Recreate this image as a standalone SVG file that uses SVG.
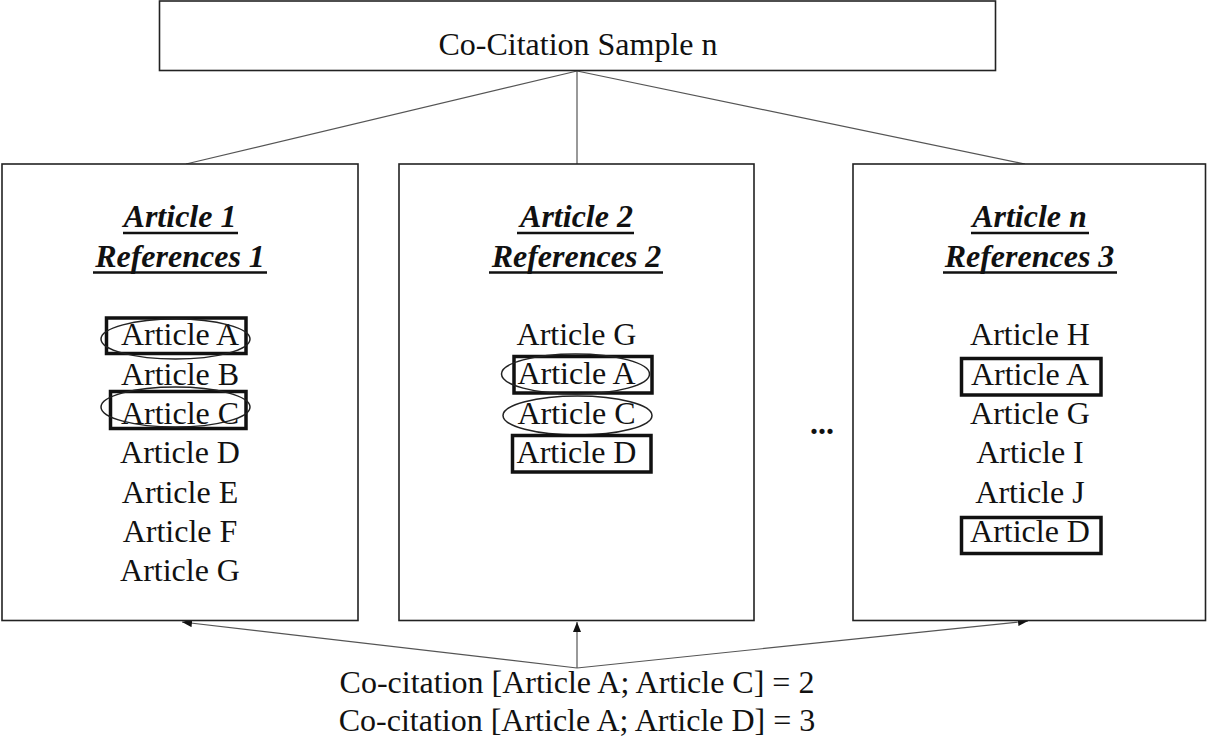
<svg xmlns="http://www.w3.org/2000/svg" width="1208" height="742" viewBox="0 0 1208 742">
<style>
.box{fill:#fff;stroke:#222;stroke-width:1.6}
.t{font-family:"Liberation Serif","Times New Roman",serif;font-size:32px;fill:#111;text-anchor:middle}
.h{font-family:"Liberation Serif","Times New Roman",serif;font-size:32px;font-weight:bold;font-style:italic;fill:#111;text-anchor:middle}
.ul{stroke:#111;stroke-width:2.6}
.mark{fill:none;stroke:#111;stroke-width:3.5}
.ell{fill:none;stroke:#222;stroke-width:1.5}
.conn{stroke:#555;stroke-width:1.2;fill:none}
</style>
<defs>
<marker id="arr" viewBox="0 0 10 8" refX="10" refY="4" markerWidth="10" markerHeight="8" markerUnits="userSpaceOnUse" orient="auto">
<path d="M0,0 L10,4 L0,8 Z" fill="#111"/>
</marker>
</defs>
<g id="connectors">
<line class="conn" x1="577" y1="71" x2="186" y2="164"/>
<line class="conn" x1="577" y1="71" x2="577" y2="164"/>
<line class="conn" x1="577" y1="71" x2="1025" y2="164"/>
<line class="conn" x1="577" y1="668" x2="182" y2="622" marker-end="url(#arr)"/>
<line class="conn" x1="577" y1="668" x2="577" y2="622" marker-end="url(#arr)"/>
<line class="conn" x1="577" y1="668" x2="1028" y2="621" marker-end="url(#arr)"/>
</g>
<g id="sample">
<rect class="box" x="159.5" y="1" width="836" height="69.5"/>
<text class="t" x="578" y="55">Co-Citation Sample n</text>
</g>
<g id="article1">
<rect class="box" x="2" y="164" width="356" height="456.5"/>
<text class="h" x="180" y="227">Article 1</text>
<line class="ul" x1="123" y1="233" x2="238" y2="233"/>
<text class="h" x="180" y="267">References 1</text>
<line class="ul" x1="93" y1="272.5" x2="267" y2="272.5"/>
<text class="t" x="180" y="345">Article A</text>
<text class="t" x="180" y="384.5">Article B</text>
<text class="t" x="180" y="424">Article C</text>
<text class="t" x="180" y="463">Article D</text>
<text class="t" x="180" y="502.5">Article E</text>
<text class="t" x="180" y="542">Article F</text>
<text class="t" x="180" y="581">Article G</text>
<rect class="mark" x="106.5" y="318" width="139.5" height="35.5"/>
<ellipse class="ell" cx="175.5" cy="339" rx="74.5" ry="20"/>
<rect class="mark" x="110.5" y="391.5" width="135.5" height="37"/>
<ellipse class="ell" cx="175.5" cy="407" rx="74.5" ry="20"/>
</g>
<g id="article2">
<rect class="box" x="399" y="164" width="355" height="456.5"/>
<text class="h" x="576.5" y="227">Article 2</text>
<line class="ul" x1="517" y1="233" x2="634" y2="233"/>
<text class="h" x="576.5" y="267">References 2</text>
<line class="ul" x1="489" y1="272.5" x2="663" y2="272.5"/>
<text class="t" x="576.5" y="345">Article G</text>
<text class="t" x="576.5" y="384">Article A</text>
<text class="t" x="576.5" y="424">Article C</text>
<text class="t" x="576.5" y="463">Article D</text>
<rect class="mark" x="514" y="356.5" width="138" height="36.5"/>
<ellipse class="ell" cx="575.5" cy="374" rx="74" ry="20"/>
<ellipse class="ell" cx="577.5" cy="415.5" rx="74.5" ry="19.5"/>
<rect class="mark" x="512.5" y="435.5" width="138.5" height="36.5"/>
</g>
<g id="ellipsis">
<text class="t" x="822" y="434" font-weight="bold">...</text>
</g>
<g id="articleN">
<rect class="box" x="853" y="164" width="352.5" height="456.5"/>
<text class="h" x="1029.5" y="227">Article n</text>
<line class="ul" x1="971" y1="233" x2="1089" y2="233"/>
<text class="h" x="1029.5" y="267">References 3</text>
<line class="ul" x1="943" y1="272.5" x2="1117" y2="272.5"/>
<text class="t" x="1030" y="345">Article H</text>
<text class="t" x="1030" y="385">Article A</text>
<text class="t" x="1030" y="424">Article G</text>
<text class="t" x="1030" y="463">Article I</text>
<text class="t" x="1030" y="502.5">Article J</text>
<text class="t" x="1030" y="542">Article D</text>
<rect class="mark" x="961.5" y="358.5" width="139.5" height="36.5"/>
<rect class="mark" x="961.5" y="517.5" width="139.5" height="36"/>
</g>
<g id="result">
<text class="t" x="577" y="693">Co-citation [Article A; Article C] = 2</text>
<text class="t" x="577" y="731">Co-citation [Article A; Article D] = 3</text>
</g>
</svg>
